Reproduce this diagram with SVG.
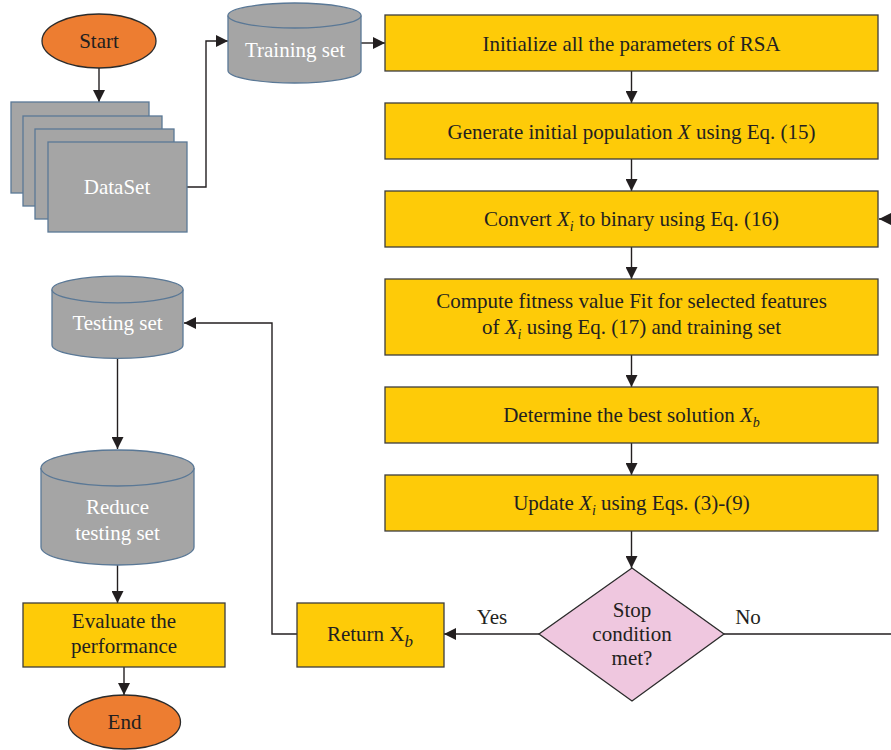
<svg xmlns="http://www.w3.org/2000/svg" width="891" height="750" viewBox="0 0 891 750">
<defs>
<marker id="ah" markerUnits="userSpaceOnUse" markerWidth="12" markerHeight="12" viewBox="0 0 12 12" refX="12" refY="6" orient="auto">
<path d="M0,0 L12,6 L0,12 Z" fill="#231f20"/>
</marker>
<style>
text{font-family:"Liberation Serif","Times New Roman",serif;font-size:21px;fill:#231f20;text-anchor:middle}
.w{fill:#ffffff}
.box{fill:#fecb08;stroke:#3d3d3d;stroke-width:1.3}
.term{fill:#ed7d31;stroke:#2b2b2b;stroke-width:1.3}
.gray{fill:#a5a5a5;stroke:#5a7896;stroke-width:1.3}
.dia{fill:#efc7df;stroke:#2b2b2b;stroke-width:1.3}
.c{fill:none;stroke:#231f20;stroke-width:1.4}
.sub{font-size:14px;font-style:italic}
.it{font-style:italic}
</style>
</defs>

<g id="connectors">
<path class="c" d="M99,68 V102" marker-end="url(#ah)"/>
<path class="c" d="M187,187 H206 V41 H228" marker-end="url(#ah)"/>
<path class="c" d="M361,43 H385" marker-end="url(#ah)"/>
<path class="c" d="M631.5,71 V103" marker-end="url(#ah)"/>
<path class="c" d="M631.5,159 V191" marker-end="url(#ah)"/>
<path class="c" d="M631.5,247 V279" marker-end="url(#ah)"/>
<path class="c" d="M631.5,355 V387" marker-end="url(#ah)"/>
<path class="c" d="M631.5,443 V475" marker-end="url(#ah)"/>
<path class="c" d="M631.5,531 V568" marker-end="url(#ah)"/>
<path class="c" d="M539,634 H444" marker-end="url(#ah)"/>
<path class="c" d="M724,634 H895 V219 H879" marker-end="url(#ah)"/>
<path class="c" d="M297,634 H272 V323 H184" marker-end="url(#ah)"/>
<path class="c" d="M117.5,358 V449" marker-end="url(#ah)"/>
<path class="c" d="M117.5,565 V603" marker-end="url(#ah)"/>
<path class="c" d="M124,667 V695" marker-end="url(#ah)"/>
<text x="492" y="624">Yes</text>
<text x="748" y="624">No</text>
</g>

<g id="start">
<ellipse class="term" cx="99" cy="41" rx="57" ry="27"/>
<text x="99" y="48">Start</text>
</g>

<g id="dataset">
<rect class="gray" x="11" y="102" width="138" height="91"/>
<rect class="gray" x="23" y="116" width="139" height="90"/>
<rect class="gray" x="35" y="129" width="139" height="90"/>
<rect class="gray" x="48" y="142" width="139" height="90"/>
<text class="w" x="117" y="194">DataSet</text>
</g>

<g id="training-set">
<path class="gray" d="M228,15.5 V70.5 A66.5,12.5 0 0 0 361,70.5 V15.5 A66.5,12.5 0 0 0 228,15.5 Z"/>
<path class="gray" d="M228,15.5 A66.5,12.5 0 0 0 361,15.5"/>
<text class="w" x="295" y="57">Training set</text>
</g>

<g id="initialize">
<rect class="box" x="385" y="15" width="493" height="56"/>
<text x="631.5" y="51">Initialize all the parameters of RSA</text>
</g>

<g id="generate">
<rect class="box" x="385" y="103" width="493" height="56"/>
<text x="631.5" y="139">Generate initial population <tspan class="it">X</tspan> using Eq. (15)</text>
</g>

<g id="convert">
<rect class="box" x="385" y="191" width="493" height="56"/>
<text x="631.5" y="226">Convert <tspan class="it">X</tspan><tspan class="sub" dy="5">i</tspan><tspan dy="-5"> to binary using Eq. (16)</tspan></text>
</g>

<g id="compute">
<rect class="box" x="385" y="279" width="493" height="76"/>
<text x="631.5" y="308">Compute fitness value Fit for selected features</text>
<text x="631.5" y="334">of <tspan class="it">X</tspan><tspan class="sub" dy="5">i</tspan><tspan dy="-5"> using Eq. (17) and training set</tspan></text>
</g>

<g id="determine">
<rect class="box" x="385" y="387" width="493" height="56"/>
<text x="631.5" y="422">Determine the best solution <tspan class="it">X</tspan><tspan class="sub" dy="5">b</tspan></text>
</g>

<g id="update">
<rect class="box" x="385" y="475" width="493" height="56"/>
<text x="631.5" y="510">Update <tspan class="it">X</tspan><tspan class="sub" dy="5">i</tspan><tspan dy="-5"> using Eqs. (3)-(9)</tspan></text>
</g>

<g id="stop-condition">
<polygon class="dia" points="632,568 724,634 632,701 539,634"/>
<text x="632" y="617">Stop</text>
<text x="632" y="641">condition</text>
<text x="632" y="665">met?</text>
</g>

<g id="return">
<rect class="box" x="297" y="603" width="147" height="64"/>
<text x="370" y="641">Return X<tspan class="sub" dy="6" style="font-size:17px">b</tspan></text>
</g>

<g id="testing-set">
<path class="gray" d="M52,289.5 V345 A65.5,13.3 0 0 0 183,345 V289.5 A65.5,13.3 0 0 0 52,289.5 Z"/>
<path class="gray" d="M52,289.5 A65.5,13.3 0 0 0 183,289.5"/>
<text class="w" x="117.5" y="330">Testing set</text>
</g>

<g id="reduce">
<path class="gray" d="M41,468 V547 A76.5,18 0 0 0 194,547 V468 A76.5,18 0 0 0 41,468 Z"/>
<path class="gray" d="M41,468 A76.5,18 0 0 0 194,468"/>
<text class="w" x="117.5" y="514">Reduce</text>
<text class="w" x="117.5" y="540">testing set</text>
</g>

<g id="evaluate">
<rect class="box" x="23" y="603" width="202" height="64"/>
<text x="124" y="628">Evaluate the</text>
<text x="124" y="653">performance</text>
</g>

<g id="end">
<ellipse class="term" cx="124.5" cy="722" rx="56" ry="27"/>
<text x="124.5" y="729">End</text>
</g>
</svg>
